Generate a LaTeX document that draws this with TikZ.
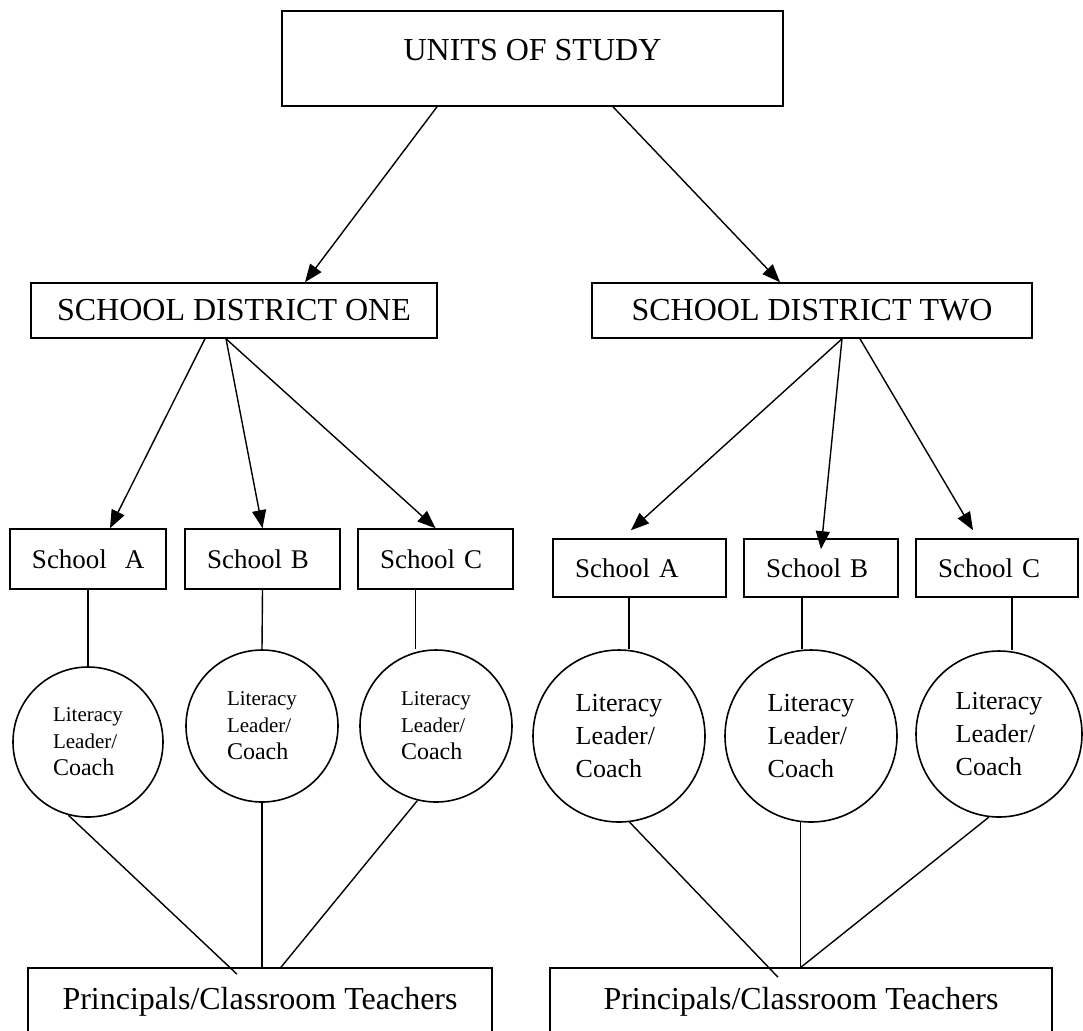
\documentclass[tikz,border=0pt]{standalone}
\usepackage{fontspec}
\setmainfont{Liberation Serif}
\usetikzlibrary{arrows.meta}

\begin{document}
\begin{tikzpicture}[
    x=0.5pt, y=-0.5pt,
    box/.style={rectangle, draw, line width=0.8pt, inner sep=0pt, align=center},
    title/.style={box, font=\fontsize{16}{19}\selectfont},
    school/.style={box, minimum height=30pt, inner xsep=11pt, text width=#1, align=left, font=\fontsize{13.5}{16}\selectfont},
    leader/.style={circle, draw, line width=0.8pt, inner sep=0pt, align=left, font=\fontsize{10.5}{13.5}\selectfont},
    bigleader/.style={leader, minimum size=86pt, font=\fontsize{13}{16.5}\selectfont},
    arrow/.style={-{Triangle[length=9pt, width=7pt]}, line width=0.7pt},
    link/.style={line width=0.7pt}
]
    \useasboundingbox (0,0) rectangle (1083,1030);
    \clip (0,0) rectangle (1083,1030);

    \node[title, minimum width=250.5pt, minimum height=47.5pt, text height=11pt, text depth=8.9pt] (units) at (532.5,58.5) {UNITS OF STUDY};
    \node[title, minimum width=203pt, minimum height=27.5pt] (sd1) at (234,310.5) {SCHOOL DISTRICT ONE};
    \node[title, minimum width=220pt, minimum height=27.5pt] (sd2) at (812,310.5) {SCHOOL DISTRICT TWO};

    \node[school=56pt] (sA) at (88,559) {\mbox{School\ \ A}};
    \node[school=55.5pt] (sB) at (262.5,559) {School B};
    \node[school=55.5pt] (sC) at (435.5,559) {School C};
    \node[school=64.5pt, minimum height=29pt] (s2a) at (639.5,568) {School A};
    \node[school=55pt, minimum height=29pt] (s2b) at (821,568) {School B};
    \node[school=59pt, minimum height=29pt] (s2c) at (997,568) {School C};

    \node[leader, minimum size=75pt] (cA) at (88,742) {Literacy\\Leader/\\{\fontsize{12}{14}\selectfont Coach}};
    \node[leader, minimum size=76pt] (cB) at (262,726) {Literacy\\Leader/\\{\fontsize{12}{14}\selectfont Coach}};
    \node[leader, minimum size=76pt] (cC) at (436,726) {Literacy\\Leader/\\{\fontsize{12}{14}\selectfont Coach}};
    \node[bigleader] (c2a) at (619,736) {Literacy\\Leader/\\Coach};
    \node[bigleader] (c2b) at (811,736) {Literacy\\Leader/\\Coach};
    \node[bigleader, minimum size=83pt] (c2c) at (999,734) {Literacy\\Leader/\\Coach};

    \node[title, minimum width=232pt, minimum height=34pt] (bl) at (260,1002) {Principals/Classroom Teachers};
    \node[title, minimum width=251pt, minimum height=34pt] (br) at (801,1002) {Principals/Classroom Teachers};

    \draw[arrow] ([xshift=-47.75pt]units.south) -- ([xshift=35.5pt]sd1.north);
    \draw[arrow] ([xshift=40.25pt]units.south) -- ([xshift=-16pt]sd2.north);

    \draw[arrow] ([xshift=-14.5pt]sd1.south) -- ([xshift=11pt]sA.north);
    \draw[arrow] ([xshift=-4pt]sd1.south) -- (sB.north);
    \draw[arrow] ([xshift=-4pt]sd1.south) -- (sC.north);
    \draw[arrow] ([xshift=15pt]sd2.south) -- ([xshift=-4.25pt, yshift=4pt]s2a.north);
    \draw[arrow] ([xshift=15pt]sd2.south) -- ([yshift=-5.5pt]s2b.north);
    \draw[arrow] ([xshift=24pt]sd2.south) -- ([xshift=-12pt, yshift=4pt]s2c.north);

    \draw[link] (sA.south) -- (cA.north);
    \draw[link] (sB.south) -- (cB.north);
    \draw[link] ([xshift=-10pt]sC.south) -- ([xshift=-10pt]sC.south |- cC.north);
    \draw[link] ([xshift=-5.25pt]s2a.south) -- ([xshift=-5.25pt]s2a.south |- c2a.north);
    \draw[link] ([xshift=-9.5pt]s2b.south) -- ([xshift=-9.5pt]s2b.south |- c2b.north);
    \draw[link] ([xshift=7.5pt]s2c.south) -- ([xshift=7.5pt]s2c.south |- c2c.north);

    \draw[link] (cA.-105) -- ([xshift=-11.5pt, yshift=-3.5pt]bl.north);
    \draw[link] (cB.south) -- (cB.south |- bl.north);
    \draw[link] (cC.-104) -- ([xshift=10.5pt]bl.north);
    \draw[link] (c2a.-83) -- ([xshift=-11.5pt, yshift=-5pt]br.north);
    \draw[link] (c2b.-97) -- (c2b.-97 |- br.north);
    \draw[link] (c2c.-97) -- (br.north);
\end{tikzpicture}
\end{document}
